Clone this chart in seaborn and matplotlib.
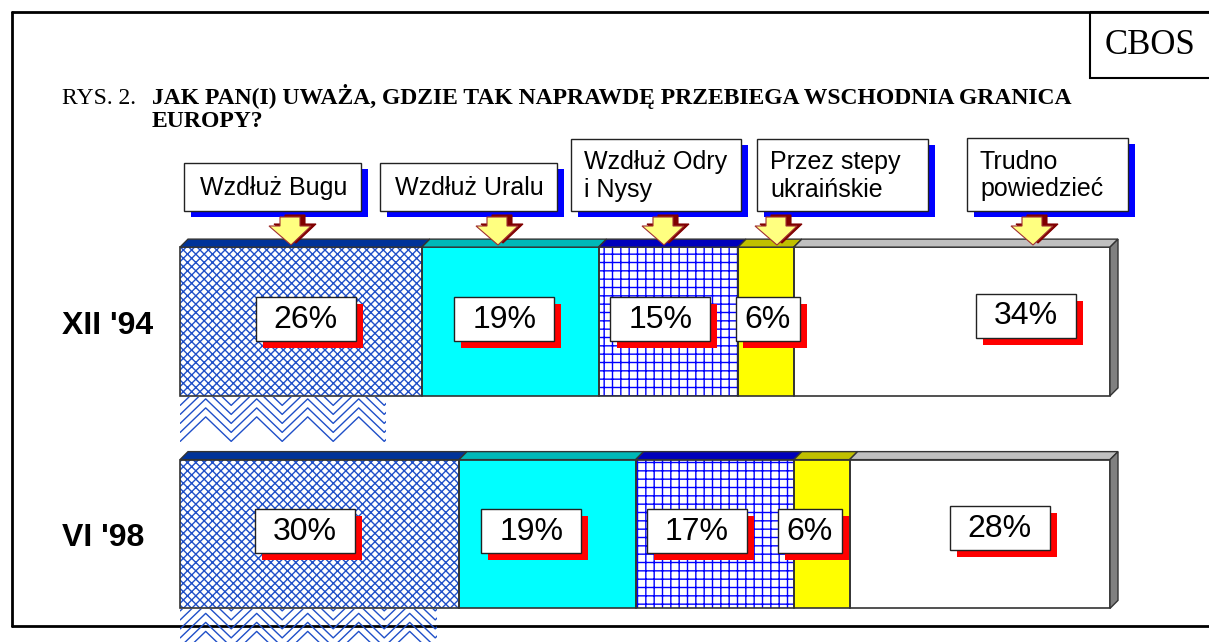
import numpy as np
import pandas as pd
import matplotlib
matplotlib.use("Agg")
import matplotlib.pyplot as plt
from matplotlib.patches import Rectangle, Polygon
import seaborn as sns

# dane z rysunku
okresy = ["XII '94", "VI '98"]
kategorie = ["Wzdłuż Bugu", "Wzdłuż Uralu", "Wzdłuż Odry\ni Nysy",
             "Przez stepy\nukraińskie", "Trudno\npowiedzieć"]
proc_94 = [26, 19, 15, 6, 34]
proc_98 = [30, 19, 17, 6, 28]

tytul_nr = "RYS. 2."
tytul = "JAK PAN(I) UWAŻA, GDZIE TAK NAPRAWDĘ PRZEBIEGA WSCHODNIA GRANICA\nEUROPY?"
znak = "CBOS"

df = pd.DataFrame({
    "okres": np.repeat(okresy, len(kategorie)),
    "kat": kategorie * len(okresy),
    "proc": proc_94 + proc_98,
})
df["koniec"] = df.groupby("okres")["proc"].cumsum()
df["start"] = df["koniec"] - df["proc"]

# wyglad segmentow: (wypelnienie, kreskowanie, kolor kresek, gorna sciana)
style = [
    ("white", "xxxx", "#1f4fc8", "#003399"),
    ("#00ffff", None, "#00ffff", "#00b8b8"),
    ("white", "++", "#0000ff", "#0000bb"),
    ("#ffff00", None, "#ffff00", "#c0c000"),
    ("white", None, "white", "#c0c0c0"),
]

sns.set_theme(style="white")
plt.rcParams["font.family"] = ["Liberation Sans", "DejaVu Sans"]
plt.rcParams["text.color"] = "black"
plt.rcParams["hatch.linewidth"] = 1.0
serif = ["Liberation Serif", "DejaVu Serif"]

W, H = 1209, 642
fig = plt.figure(figsize=(W / 100, H / 100), dpi=100)

# os z paskami (piksele figury -> ulamki)
bar_l, bar_r = 180, 1110
yc0, yc1 = 321.5, 534.0
unit = yc1 - yc0
ylo, yhi = -0.5, 1.45
ax_top = yc0 + ylo * unit
ax_bot = yc0 + yhi * unit
ax = fig.add_axes([bar_l / W, 1 - ax_bot / H, (bar_r - bar_l) / W, (ax_bot - ax_top) / H])

szer = 0.7
for i in reversed(range(len(kategorie))):
    fc, ht, hc, _ = style[i]
    sub = df[df["kat"] == kategorie[i]]
    sns.barplot(data=sub, x="koniec", y="okres", order=okresy, orient="h",
                color=fc, saturation=1, width=szer, errorbar=None,
                edgecolor=hc, linewidth=0, hatch=ht, ax=ax)
ax.set_xlim(0, 100)
ax.set_ylim(yhi, ylo)
ax.axis("off")

# warstwa na wierzchu w pikselach
ov = fig.add_axes([0, 0, 1, 1])
ov.set_xlim(0, W)
ov.set_ylim(H, 0)
ov.axis("off")


def px(x, y):
    return ov.transData.inverted().transform(ax.transData.transform((x, y)))


# ramka
ov.plot([12, W], [12, 12], color="black", lw=2)
ov.plot([12, 12], [12, 626], color="black", lw=2)
ov.plot([12, W], [626, 626], color="black", lw=2)
ov.add_patch(Rectangle((1090, 12), 130, 66, fill=False, ec="black", lw=1.5))
ov.text(1150, 46, znak, ha="center", va="center", fontsize=25, family=serif)

# tytul
ov.text(62, 104, tytul_nr, ha="left", va="baseline", fontsize=17, family=serif)
ov.text(152, 104, tytul.split("\n")[0], ha="left", va="baseline", fontsize=17,
        fontweight="bold", family=serif)
ov.text(152, 127, tytul.split("\n")[1], ha="left", va="baseline", fontsize=17,
        fontweight="bold", family=serif)


# artefakt kreskowania pod pierwszym segmentem
def zygzak(x0, x1, y0, y1, cmax):
    clip = Rectangle((x0, y0), x1 - x0, y1 - y0, transform=ov.transData, visible=False)
    ov.add_patch(clip)
    xs = np.arange(180.2, x1 + 30, 25.5)
    tri = np.abs(((xs - 231.7) / 25.5 + 1) % 2 - 1) * 25.5
    c = cmax
    while c > y0 - 5:
        ln, = ov.plot(xs, c - tri, color="#1f4fc8", lw=1.0)
        ln.set_clip_path(clip)
        c -= 9


d = 8
for r, okres in enumerate(okresy):
    yt = px(0, r - szer / 2)[1]
    yb = px(0, r + szer / 2)[1]
    sub = df[df["okres"] == okres].reset_index(drop=True)
    for i, row in sub.iterrows():
        x0 = px(row["start"], r)[0]
        x1 = px(row["koniec"], r)[0]
        ov.add_patch(Rectangle((x0, yt), x1 - x0, yb - yt, fill=False, ec="#333333", lw=1.2))
        ov.add_patch(Polygon([(x0, yt), (x1, yt), (x1 + d, yt - d), (x0 + d, yt - d)],
                             closed=True, fc=style[i][3], ec="#333333", lw=1.0))
    xr = px(100, r)[0]
    ov.add_patch(Polygon([(xr, yt), (xr + d, yt - d), (xr + d, yb - d), (xr, yb)],
                         closed=True, fc="#808080", ec="#333333", lw=1.0))
    if r == 0:
        zygzak(bar_l, 386, yb + 1, yb + 46, yb + 46)
    else:
        zygzak(bar_l, 437, yb + 1, H, yb + 48)

# etykiety procentowe
przes_x = [[5, -6, -8, 2, 74], [-15, -16, -18, -12, 20]]
for r, okres in enumerate(okresy):
    sub = df[df["okres"] == okres].reset_index(drop=True)
    for i, row in sub.iterrows():
        cx, cy = px((row["start"] + row["koniec"]) / 2, r)
        cx += przes_x[r][i]
        cy += -6 if i == len(kategorie) - 1 else -3
        txt = f"{row['proc']}%"
        w, h = 36 * len(txt) - 8, 44
        ov.add_patch(Rectangle((cx - w / 2 + 7, cy - h / 2 + 7), w, h, fc="#ff0000", ec="none"))
        ov.add_patch(Rectangle((cx - w / 2, cy - h / 2), w, h, fc="white", ec="#222222", lw=1.0))
        ov.text(cx, cy + 1, txt, ha="center", va="center", fontsize=23)

# etykiety wierszy
for r, okres in enumerate(okresy):
    cy = px(0, r)[1]
    ov.text(62, cy + 4, okres, ha="left", va="center", fontsize=23, fontweight="bold")

# ramki z nazwami kategorii i strzalki
ramki = [(184, 163, 361, 211), (380, 163, 557, 211), (571, 139, 741, 211),
         (757, 139, 928, 211), (967, 138, 1128, 211)]
strzalki = [290, 497, 663, 776, 1032]
for k, (a, b, c2, e) in enumerate(ramki):
    ov.add_patch(Rectangle((a + 7, b + 6), c2 - a, e - b, fc="#0000ff", ec="none"))
    ov.add_patch(Rectangle((a, b), c2 - a, e - b, fc="white", ec="#222222", lw=1.0))
    nazwa = kategorie[k]
    if "\n" in nazwa:
        ov.text(a + 13, (b + e) / 2 + 1, nazwa, ha="left", va="center", fontsize=18,
                linespacing=1.2)
    else:
        ov.text((a + c2) / 2 + 1, (b + e) / 2 + 1, nazwa, ha="center", va="center", fontsize=18)

    sx = strzalki[k]
    ksztalt = [(-10, 217), (10, 217), (10, 226), (21, 226), (1, 245), (-21, 226), (-10, 226)]
    ov.add_patch(Polygon([(sx + p + 5, q - 2) for p, q in ksztalt], closed=True,
                         fc="#800000", ec="#800000", lw=0.8))
    ov.add_patch(Polygon([(sx + p, q) for p, q in ksztalt], closed=True,
                         fc="#ffff80", ec="#a03030", lw=0.8))

fig.savefig("out.png", dpi=100)
